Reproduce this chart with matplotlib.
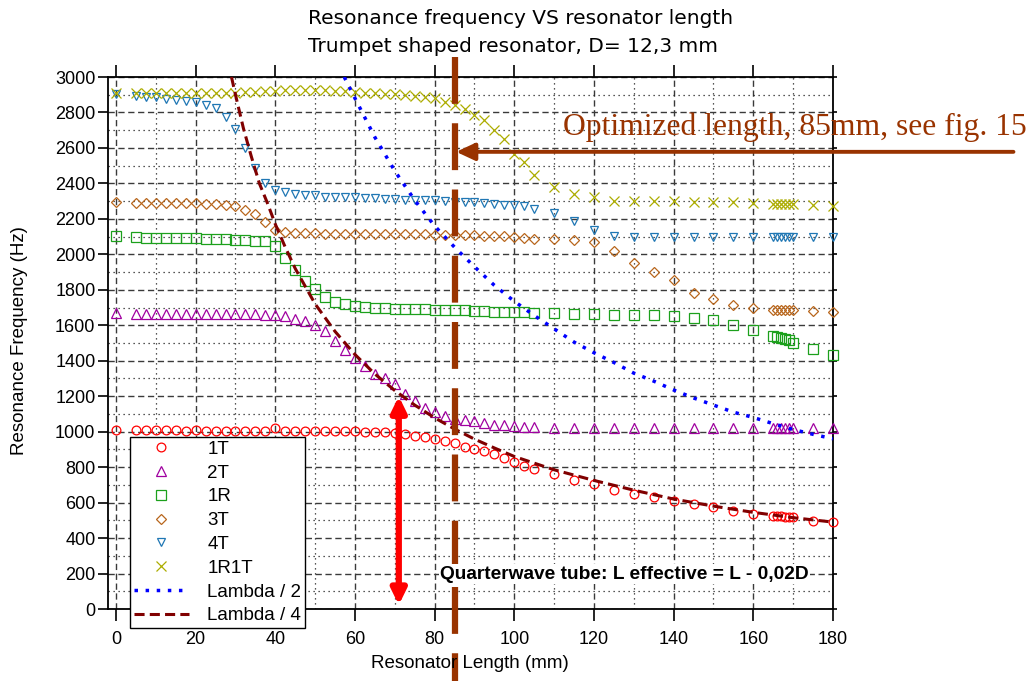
import matplotlib
matplotlib.use('Agg')
import matplotlib.pyplot as plt
from matplotlib.ticker import MultipleLocator
from matplotlib.transforms import blended_transform_factory

# ---------------- data ----------------
lengths = [0,
           5, 7.5, 10, 12.5, 15, 17.5, 20, 22.5, 25, 27.5,
           30, 32.5, 35, 37.5, 40, 42.5, 45, 47.5, 50, 52.5,
           55, 57.5, 60, 62.5, 65, 67.5, 70, 72.5, 75, 77.5,
           80, 82.5, 85, 87.5, 90, 92.5, 95, 97.5, 100, 102.5,
           105,
           110, 115, 120, 125, 130, 135, 140, 145, 150, 155, 160,
           165, 166, 167, 168, 169, 170,
           175, 180]

f_1T = [1010,
        1008, 1008, 1007, 1007, 1007, 1006, 1008, 1006, 1006, 1006,
        1006, 1005, 1005, 1004, 1022, 1005, 1004, 1004, 1003, 1003,
        1002, 1002, 1001, 1000, 999, 998, 994, 988, 976, 968,
        960, 947, 936, 915, 903, 889, 874, 853, 828, 809,
        791,
        761, 729, 704, 672, 650, 630, 611, 592, 575, 555, 537,
        526, 524, 522, 520, 518, 516,
        498, 488]

f_2T = [1668,
        1665, 1665, 1665, 1665, 1664, 1664, 1664, 1663, 1663, 1662,
        1662, 1662, 1661, 1660, 1660, 1651, 1636, 1623, 1604, 1567,
        1510, 1463, 1417, 1370, 1328, 1302, 1268, 1215, 1172, 1135,
        1110, 1088, 1073, 1068, 1060, 1047, 1038, 1035, 1031, 1028,
        1026,
        1022, 1022, 1022, 1022, 1022, 1022, 1022, 1022, 1022, 1022, 1022,
        1022, 1022, 1022, 1022, 1022, 1022,
        1021, 1020]

f_1R = [2105,
        2098, 2094, 2092, 2092, 2092, 2092, 2092, 2088, 2088, 2086,
        2083, 2079, 2077, 2073, 2049, 1979, 1910, 1848, 1805, 1760,
        1730, 1721, 1711, 1704, 1698, 1698, 1692, 1692, 1689, 1689,
        1685, 1685, 1685, 1685, 1681, 1679, 1677, 1675, 1674, 1674,
        1668,
        1669, 1666, 1666, 1656, 1656, 1656, 1651, 1642, 1627, 1604, 1576,
        1542, 1536, 1530, 1525, 1517, 1501,
        1467, 1430]

f_3T = [2293,
        2289, 2289, 2289, 2289, 2289, 2289, 2289, 2285, 2283, 2280,
        2270, 2251, 2229, 2182, 2139, 2124, 2120, 2118, 2118, 2117,
        2117, 2116, 2116, 2116, 2115, 2115, 2114, 2114, 2113, 2113,
        2111, 2110, 2109, 2108, 2107, 2106, 2105, 2103, 2100, 2093,
        2088,
        2087, 2083, 2070, 2019, 1953, 1901, 1854, 1783, 1747, 1717, 1698,
        1686, 1686, 1686, 1686, 1686, 1686,
        1680, 1676]

f_4T = [2905,
        2893, 2889, 2886, 2874, 2870, 2865, 2861, 2842, 2825, 2775,
        2709, 2602, 2485, 2402, 2364, 2349, 2340, 2336, 2332, 2326,
        2323, 2323, 2321, 2317, 2317, 2312, 2312, 2308, 2308, 2308,
        2306, 2298, 2296, 2293, 2293, 2289, 2285, 2280, 2280, 2270,
        2258,
        2235, 2190, 2140, 2102, 2099, 2099, 2099, 2099, 2099, 2099, 2099,
        2099, 2099, 2099, 2099, 2099, 2099,
        2099, 2099]

f_1R1T = [2908,
          2910, 2910, 2910, 2910, 2910, 2910, 2910, 2910, 2912, 2912,
          2912, 2914, 2915, 2920, 2922, 2925, 2927, 2927, 2927, 2927,
          2922, 2920, 2916, 2912, 2908, 2905, 2902, 2898, 2893, 2888,
          2880, 2861, 2842, 2818, 2786, 2758, 2702, 2649, 2567, 2518,
          2448,
          2380, 2340, 2322, 2300, 2298, 2298, 2298, 2293, 2293, 2293, 2289,
          2285, 2285, 2285, 2285, 2285, 2285,
          2276, 2270]

lam2_len = [57.3, 60, 65, 70, 75, 80, 85, 90, 95, 100, 105, 110, 115, 120,
            125, 130, 135, 140, 145, 150, 155, 160, 165, 170, 175, 180]
lam2_f = [3000, 2880, 2660, 2470, 2305, 2160, 2040, 1930, 1825, 1735, 1655,
          1580, 1505, 1445, 1390, 1330, 1285, 1235, 1190, 1150, 1110, 1080,
          1045, 1012, 985, 960]

lam4_len = [29, 30, 32, 34, 36, 38, 40, 42.5, 45, 47.5, 50, 55, 60, 65, 70,
            75, 80, 85, 90, 95, 100, 110, 120, 130, 140, 150, 160, 170, 180]
lam4_f = [3000, 2900, 2710, 2550, 2400, 2290, 2170, 2040, 1920, 1820, 1720,
          1565, 1435, 1325, 1232, 1150, 1078, 1015, 958, 908, 860, 785, 725,
          670, 620, 580, 545, 515, 490]

series_names = ["1T", "2T", "1R", "3T", "4T", "1R1T"]
x_ticks = [0, 20, 40, 60, 80, 100, 120, 140, 160, 180]
y_ticks = [0, 200, 400, 600, 800, 1000, 1200, 1400, 1600, 1800, 2000,
           2200, 2400, 2600, 2800, 3000]
optimized_length = 85
arrow_freq = 2578
red_arrow_x = 71
red_arrow_top = 1200
red_arrow_bottom = 22

# ---------------- figure ----------------
plt.rcParams['font.family'] = ['Liberation Sans', 'DejaVu Sans']

W, H = 1035, 681
fig = plt.figure(figsize=(W / 100, H / 100), dpi=100)
fig.patch.set_facecolor('white')
ax = fig.add_axes([108 / W, 1 - 609 / H, (833 - 108) / W, (609 - 77) / H])
ax.set_xlim(-2, 180)
ax.set_ylim(0, 3000)

ax.set_xticks(x_ticks)
ax.set_yticks(y_ticks)
ax.xaxis.set_minor_locator(MultipleLocator(10))
ax.yaxis.set_minor_locator(MultipleLocator(100))
ax.grid(which='major', color='#3a3a3a', linestyle=(0, (4.5, 2.6)), linewidth=1.0)
ax.grid(which='minor', color='#202020', linestyle=(0, (1, 3)), linewidth=0.9)
ax.set_axisbelow(True)

ax.tick_params(which='minor', length=0)
ax.tick_params(axis='x', which='major', direction='out', length=8.5, width=1.2,
               top=True, labelsize=13, pad=7)
ax.tick_params(axis='y', which='major', direction='out', length=7.5, width=1.2,
               right=True, labelsize=13, pad=1.5)
for t in ax.yaxis.get_major_ticks():
    t.tick2line.set_markersize(3)
for s in ax.spines.values():
    s.set_linewidth(1.3)
    s.set_color('black')

styles = {
    "1T": dict(marker='o', color='#FF0000', ms=6.3),
    "2T": dict(marker='^', color='#A000A0', ms=7.3),
    "1R": dict(marker='s', color='#1CA01C', ms=7.0),
    "3T": dict(marker='D', color='#B8661C', ms=5.2),
    "4T": dict(marker='v', color='#1F77B4', ms=6.0),
    "1R1T": dict(marker='x', color='#ADAD00', ms=7.5),
}
values = {"1T": f_1T, "2T": f_2T, "1R": f_1R, "3T": f_3T, "4T": f_4T, "1R1T": f_1R1T}

for name in series_names:
    st = styles[name]
    ax.plot(lengths, values[name], linestyle='none', marker=st['marker'],
            mfc='none', mec=st['color'], ms=st['ms'], mew=0.9,
            label=name, zorder=3, clip_on=False)

ax.plot(lam2_len, lam2_f, color='#0000FF', lw=2.5, linestyle=(0, (1, 2.2)),
        label='Lambda / 2', zorder=4)
ax.plot(lam4_len, lam4_f, color='#800000', lw=2.2, linestyle=(0, (3.3, 1.7)),
        label='Lambda / 4', zorder=4)

# brown optimized-length line
brown = '#993300'
btrans = blended_transform_factory(ax.transData, fig.transFigure)
ax.plot([optimized_length, optimized_length], [1 - 57 / H, 0.0], transform=btrans,
        color=brown, lw=4.5, linestyle=(0, (7.5, 3.1)), clip_on=False, zorder=6)

ax.annotate('', xy=(optimized_length + 0.4, arrow_freq), xytext=(225.3, arrow_freq),
            arrowprops=dict(arrowstyle='-|>,head_length=0.75,head_width=0.35',
                            color=brown, lw=2.8, shrinkA=0, shrinkB=0,
                            mutation_scale=15),
            annotation_clip=False, zorder=6)
fig.text(563 / W, 1 - 127 / H, 'Optimized length, 85mm, see fig. 15',
         fontsize=22.8, family='Liberation Serif', color=brown,
         ha='left', va='center')

# red double arrow
ax.annotate('', xy=(red_arrow_x, red_arrow_top), xytext=(red_arrow_x, red_arrow_bottom),
            arrowprops=dict(arrowstyle='<|-|>,head_length=0.45,head_width=0.22',
                            color='#FF0000', lw=4.5, shrinkA=0, shrinkB=0,
                            mutation_scale=20),
            zorder=7)

ax.text(127.6, 197, 'Quarterwave tube: L effective = L - 0,02D', fontsize=13.8,
        fontweight='bold', ha='center', va='center', zorder=8,
        bbox=dict(facecolor='white', edgecolor='none', pad=1.0))

leg = ax.legend(loc='upper left', bbox_to_anchor=(0.0303, 0.3233), borderaxespad=0,
                fontsize=13.5, frameon=True, fancybox=False, edgecolor='black',
                framealpha=1, handlelength=2.93, handletextpad=1.0,
                labelspacing=0.355, borderpad=0.2, numpoints=1)
leg.get_frame().set_linewidth(1.0)
leg.set_zorder(9)

# titles and axis labels
fig.text(308 / W, 1 - 18 / H, 'Resonance frequency VS resonator length',
         fontsize=14.5, family='DejaVu Sans', ha='left', va='center')
fig.text(308 / W, 1 - 46 / H, 'Trumpet shaped resonator, D= 12,3 mm',
         fontsize=14.5, family='DejaVu Sans', ha='left', va='center')
fig.text(20 / W, 1 - 341 / H, 'Resonance Frequency (Hz)', rotation=90,
         ha='center', va='center', fontsize=13.5)
fig.text(470 / W, 1 - 664 / H, 'Resonator Length (mm)', ha='center',
         va='center', fontsize=13.5)

fig.savefig('out.png', dpi=100)
